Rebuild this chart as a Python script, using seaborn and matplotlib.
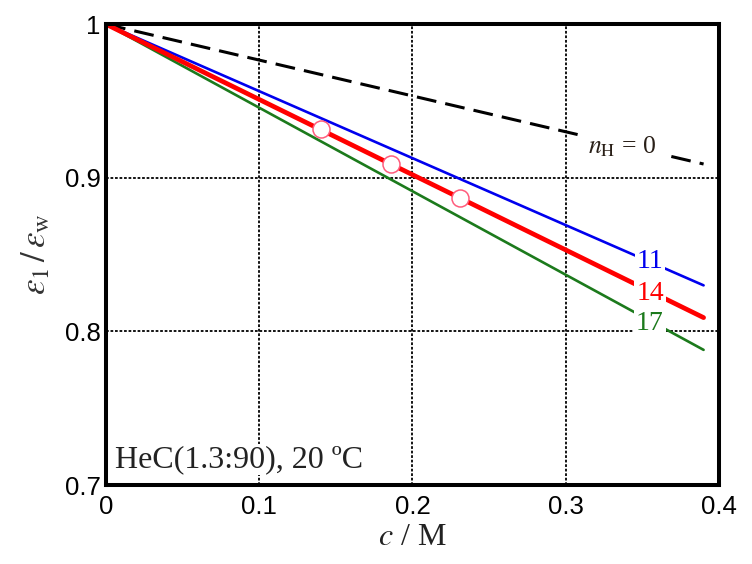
import numpy as np
import pandas as pd
import matplotlib
matplotlib.use('Agg')
import matplotlib.pyplot as plt
import seaborn as sns

# data
c = [0.0, 0.39]
nh0 = [1.0, 0.909]
nh11 = [1.0, 0.830]
nh14 = [1.0, 0.809]
nh17 = [1.0, 0.788]
pts_c = [0.140, 0.186, 0.231]
pts_eps = [0.932, 0.909, 0.887]

sns.set_theme(style='white')
plt.rcParams['font.family'] = ['Liberation Sans', 'DejaVu Sans']
plt.rcParams['mathtext.fontset'] = 'stix'

fig = plt.figure(figsize=(7.52, 5.64), dpi=100)
ax = fig.add_axes([0.141, 0.140, 0.815, 0.817])

sns.lineplot(x=c, y=nh0, color='black', lw=2.2, linestyle=(0, (6.5, 3)), ax=ax)
sns.lineplot(x=c, y=nh11, color='#0000ee', lw=1.9, ax=ax)
sns.lineplot(x=c, y=nh17, color='#1c7a1c', lw=1.9, ax=ax)
sns.lineplot(x=c, y=nh14, color='#ff0000', lw=3.4, ax=ax)
sns.scatterplot(x=pts_c, y=pts_eps, marker='o', s=150, facecolor='white',
                edgecolor='#ff5c7c', linewidth=1.1, zorder=5, ax=ax)

ax.set_xlim(0, 0.4)
ax.set_ylim(0.7, 1.0)
ax.set_xticks([0, 0.1, 0.2, 0.3, 0.4])
ax.set_xticklabels(['0', '0.1', '0.2', '0.3', '0.4'])
ax.set_yticks([0.7, 0.8, 0.9, 1.0])
ax.set_yticklabels(['0.7', '0.8', '0.9', '1'])
ax.tick_params(length=0, labelsize=18.5, colors='black')
ax.tick_params(axis='x', pad=7)
ax.tick_params(axis='y', pad=4)
ax.grid(True, color='black', lw=1.3, linestyle=(0, (1.5, 1.0)))
ax.set_axisbelow(True)
for s in ax.spines.values():
    s.set_visible(True)
    s.set_color('black')
    s.set_linewidth(2.9)

serif = ['Liberation Serif', 'DejaVu Serif']
ax.set_xlabel(r'$c$ / M', fontsize=23, family=serif, color='#222222', labelpad=3)
ax.set_ylabel(r'$\varepsilon_{1}\,/\,\varepsilon_{\mathrm{w}}$', fontsize=25, color='#333333', labelpad=9)

box = dict(facecolor='white', edgecolor='none', pad=1.5)
ax.text(0.355, 0.8455, '11', color='#0000ee', fontsize=20, family=serif, ha='center', va='center', bbox=box, zorder=6)
ax.text(0.355, 0.825, '14', color='#ff0000', fontsize=20, family=serif, ha='center', va='center', bbox=box, zorder=6)
ax.text(0.355, 0.805, '17', color='#1c7a1c', fontsize=20, family=serif, ha='center', va='center', bbox=box, zorder=6)
ax.text(0.337, 0.920, r'$n_{\mathrm{H}}$ = 0', color='#2a2018', fontsize=18.5, family=serif, ha='center', va='center',
        bbox=dict(facecolor='white', edgecolor='none', pad=6.5), zorder=6)
ax.text(0.006, 0.7117, 'HeC(1.3:90), 20 ºC', color='#222222', fontsize=23, family=serif, ha='left', va='baseline',
        bbox=dict(facecolor='white', edgecolor='none', pad=0.5), zorder=6)

fig.savefig('out.png', dpi=100)
